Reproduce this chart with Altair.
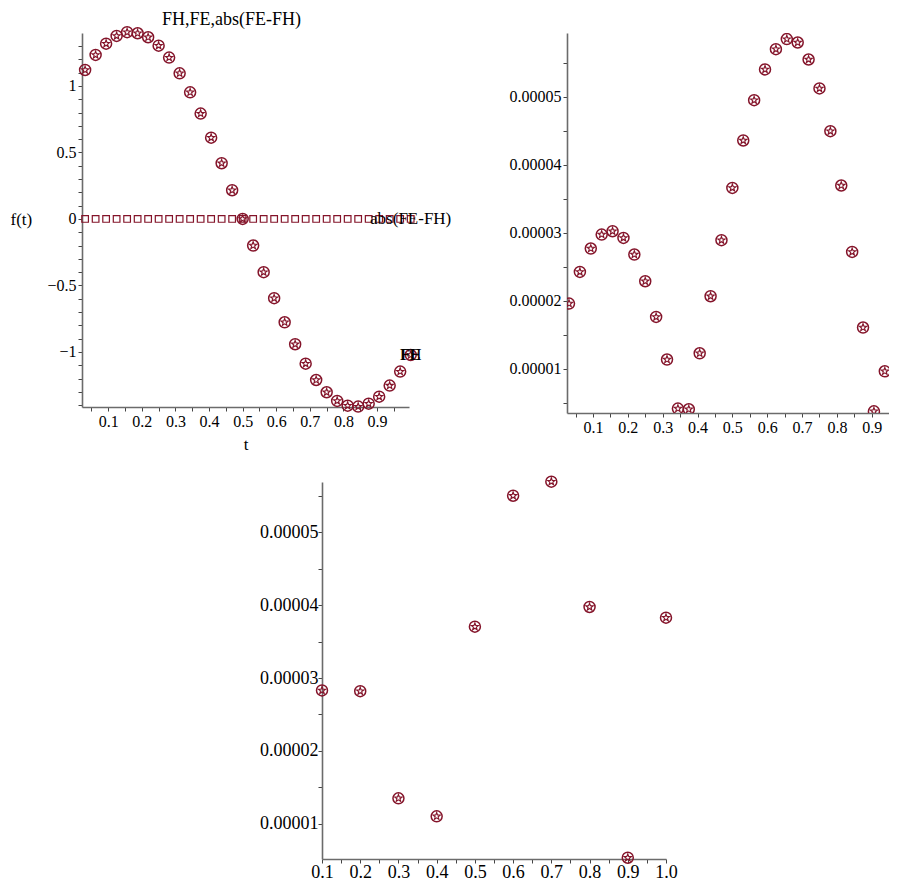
import altair as alt
import pandas as pd

# ---------------- data ----------------
t_fine = [0.03125, 0.0625, 0.09375, 0.125, 0.15625, 0.1875, 0.21875, 0.25,
          0.28125, 0.3125, 0.34375, 0.375, 0.40625, 0.4375, 0.46875, 0.5,
          0.53125, 0.5625, 0.59375, 0.625, 0.65625, 0.6875, 0.71875, 0.75,
          0.78125, 0.8125, 0.84375, 0.875, 0.90625, 0.9375, 0.96875, 1.0]

fh = [1.120, 1.233, 1.318, 1.376, 1.404, 1.396, 1.366, 1.303,
      1.213, 1.095, 0.952, 0.792, 0.611, 0.419, 0.216, 0.000,
      -0.200, -0.400, -0.596, -0.777, -0.942, -1.088, -1.211, -1.303,
      -1.368, -1.404, -1.411, -1.389, -1.336, -1.253, -1.148, -1.023]

fe = [1.120, 1.233, 1.318, 1.376, 1.404, 1.396, 1.366, 1.303,
      1.213, 1.095, 0.952, 0.792, 0.611, 0.419, 0.216, 0.000,
      -0.200, -0.400, -0.596, -0.777, -0.942, -1.088, -1.211, -1.303,
      -1.368, -1.404, -1.411, -1.389, -1.336, -1.253, -1.148, -1.023]

err_fine = [1.957e-5, 2.423e-5, 2.767e-5, 2.973e-5, 3.022e-5, 2.924e-5, 2.679e-5, 2.286e-5,
            1.760e-5, 1.133e-5, 0.411e-5, 0.401e-5, 1.225e-5, 2.065e-5, 2.890e-5, 3.660e-5,
            4.358e-5, 4.951e-5, 5.404e-5, 5.702e-5, 5.850e-5, 5.800e-5, 5.550e-5, 5.124e-5,
            4.495e-5, 3.695e-5, 2.717e-5, 1.604e-5, 0.371e-5, 0.960e-5, 2.345e-5, 3.600e-5]

t_coarse = [0.1, 0.2, 0.3, 0.4, 0.5, 0.6, 0.7, 0.8, 0.9, 1.0]
err_coarse = [2.830e-5, 2.820e-5, 1.352e-5, 1.105e-5, 3.703e-5,
              5.497e-5, 5.690e-5, 3.973e-5, 0.538e-5, 3.826e-5]

series_names = ["FH", "FE", "abs(FE-FH)"]
title_text = "FH,FE,abs(FE-FH)"

# ---------------- styling ----------------
RED = "#84142A"
FONT = "Liberation Serif"
STAR = ("M0,-1 L0.2351,-0.3236 L0.9511,-0.309 L0.3804,0.1236 L0.5878,0.809 "
        "L0,0.4 L-0.5878,0.809 L-0.3804,0.1236 L-0.9511,-0.309 L-0.2351,-0.3236 Z")
CIRCLE_SIZE = 121
STAR_SIZE = 60

x_ticks = [round(i * 0.05, 2) for i in range(1, 21)]
y_ticks_main = [round(i * 0.1, 1) for i in range(-14, 14)]
y_ticks_err = [round(i * 5e-6, 7) for i in range(1, 12)]

x_lab = "round(datum.value*20) % 2 == 0 ? format(datum.value, '.1f') : ''"
y_lab_main = "round(datum.value*10) % 5 == 0 ? format(round(datum.value*10)/10, '') : ''"
y_lab_err = "round(datum.value*2e5) % 2 == 0 ? format(datum.value, '.5f') : ''"

common_axis = dict(grid=False, domainColor="#6b6b6b", domainWidth=1.6,
                   tickColor="#444444", tickWidth=1, tickSize=4,
                   labelColor="black", labelFont=FONT, labelOverlap=False,
                   labelFlush=False, titleFont=FONT, titleColor="black",
                   titleFontWeight="normal", titleFontSize=17)

# ---------------- top-left panel ----------------
main_df = pd.DataFrame({
    "t": t_fine * 3,
    "v": fh + fe + err_fine,
    "series": [series_names[0]] * len(t_fine) + [series_names[1]] * len(t_fine)
              + [series_names[2]] * len(t_fine),
})
label_df = pd.DataFrame({
    "t": [t_fine[-1], t_fine[-1], t_fine[-1]],
    "v": [fh[-1], fe[-1], err_fine[-1]],
    "label": series_names,
})

xs_main = alt.X("t:Q", scale=alt.Scale(domain=[0.022, 0.995], nice=False, zero=False),
                axis=alt.Axis(values=x_ticks, labelExpr=x_lab, title="t",
                              labelFontSize=16, labelPadding=2, titlePadding=7,
                              **common_axis))
ys_main = alt.Y("v:Q", scale=alt.Scale(domain=[-1.414, 1.398], nice=False, zero=False),
                axis=alt.Axis(values=y_ticks_main, labelExpr=y_lab_main, title="f(t)",
                              titleAngle=0, titleAlign="left", titleBaseline="middle",
                              titleX=-72, titleY=186, labelFontSize=16, labelPadding=2,
                              **common_axis))

base_main = alt.Chart(main_df).encode(x=xs_main, y=ys_main)
boxes = base_main.transform_filter(alt.datum.series == series_names[2]).mark_point(
    shape="square", filled=False, size=44, strokeWidth=1.2, color=RED, opacity=1)
circles = base_main.transform_filter(alt.datum.series == series_names[0]).mark_point(
    shape="circle", filled=False, size=CIRCLE_SIZE, strokeWidth=1.5, color=RED, opacity=1)
stars = base_main.transform_filter(alt.datum.series == series_names[1]).mark_point(
    shape=STAR, filled=False, size=STAR_SIZE, strokeWidth=1.1, color=RED, opacity=1)
labels = alt.Chart(label_df).mark_text(
    font=FONT, fontSize=17, color="black", align="center", baseline="middle"
).encode(x=xs_main, y=ys_main, text="label:N")

left = alt.layer(boxes, circles, stars, labels).properties(
    width=327, height=374,
    title=alt.TitleParams(title_text, font=FONT, fontSize=18, fontWeight="normal",
                          color="black", offset=-5, dx=-14, anchor="middle"))

# ---------------- top-right panel ----------------
fine_df = pd.DataFrame({"t": t_fine, "e": err_fine})
base_r = alt.Chart(fine_df).encode(
    x=alt.X("t:Q", scale=alt.Scale(domain=[0.0255, 0.9495], nice=False, zero=False),
            axis=alt.Axis(values=x_ticks, labelExpr=x_lab, title=None,
                          labelFontSize=16, labelPadding=2, **common_axis)),
    y=alt.Y("e:Q", scale=alt.Scale(domain=[3.46e-6, 5.94e-5], nice=False, zero=False),
            axis=alt.Axis(values=y_ticks_err, labelExpr=y_lab_err, title=None,
                          labelFontSize=16, labelPadding=2, **common_axis)),
)
right = alt.layer(
    base_r.mark_point(shape="circle", filled=False, size=CIRCLE_SIZE, strokeWidth=1.5,
                      color=RED, opacity=1, clip=True),
    base_r.mark_point(shape=STAR, filled=False, size=STAR_SIZE, strokeWidth=1.1,
                      color=RED, opacity=1, clip=True),
).properties(width=322, height=380)

# ---------------- bottom panel ----------------
coarse_df = pd.DataFrame({"t": t_coarse, "e": err_coarse})
base_b = alt.Chart(coarse_df).encode(
    x=alt.X("t:Q", scale=alt.Scale(domain=[0.1, 1.0], nice=False, zero=False),
            axis=alt.Axis(values=[round(i * 0.05, 2) for i in range(2, 21)],
                          labelExpr=x_lab, title=None, labelFontSize=18,
                          labelPadding=0, **common_axis)),
    y=alt.Y("e:Q", scale=alt.Scale(domain=[5.205e-6, 5.685e-5], nice=False, zero=False),
            axis=alt.Axis(values=y_ticks_err, labelExpr=y_lab_err, title=None,
                          labelFontSize=18, labelPadding=0, **common_axis)),
)
bottom = alt.layer(
    base_b.mark_point(shape="circle", filled=False, size=CIRCLE_SIZE, strokeWidth=1.5,
                      color=RED, opacity=1),
    base_b.mark_point(shape=STAR, filled=False, size=STAR_SIZE, strokeWidth=1.1,
                      color=RED, opacity=1),
).properties(width=344, height=377)

spacer = alt.Chart(pd.DataFrame({"a": [0]})).mark_point(opacity=0).encode(
    x=alt.X("a:Q", axis=None), y=alt.Y("a:Q", axis=None)
).properties(width=200, height=10)

top_row = alt.hconcat(left, right, spacing=158, bounds="flush")
bottom_row = alt.hconcat(spacer, bottom, spacing=40, bounds="flush")

chart = alt.vconcat(top_row, bottom_row, spacing=21).properties(
    padding={"left": 2, "top": 2, "right": 0, "bottom": 0}
).configure_view(stroke=None).configure_axis(labelOverlap=False, labelFlush=False)

chart.save("out.html", embed_options={"renderer": "svg", "actions": False})
